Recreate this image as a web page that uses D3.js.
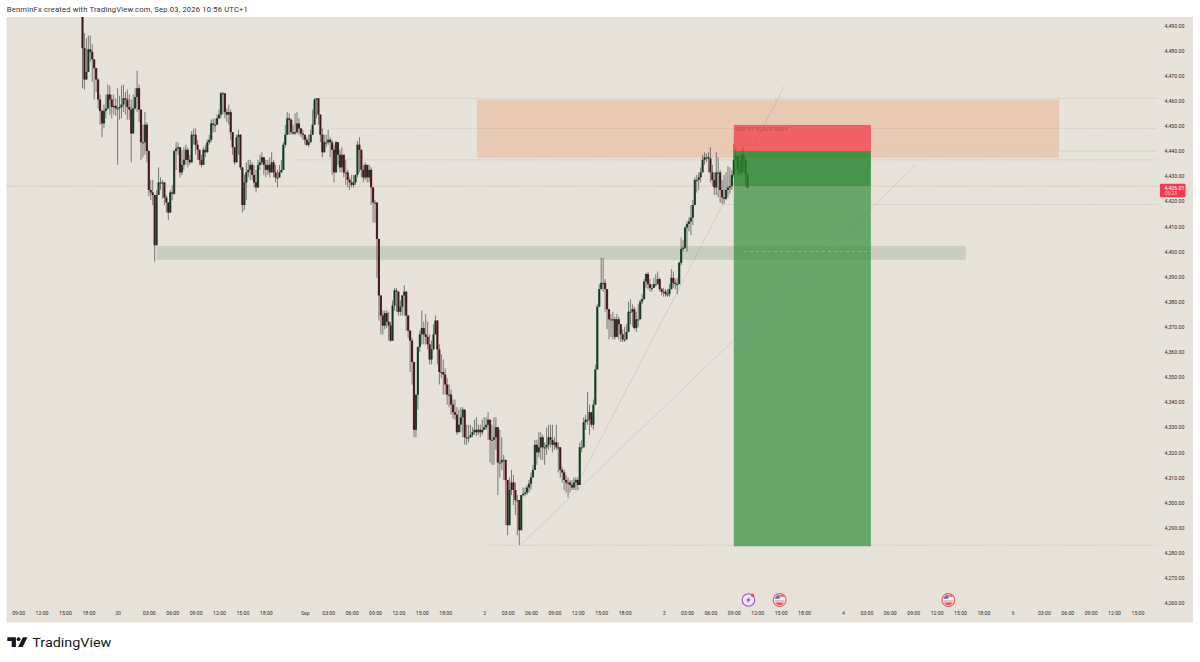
<!DOCTYPE html>
<html>
<head>
<meta charset="utf-8">
<script src="https://cdn.jsdelivr.net/npm/d3@7"></script>
<style>
  html, body { margin: 0; padding: 0; background: #fff; }
  svg { display: block; }
  text { font-family: Roboto, "Liberation Sans", sans-serif; }
  .domain { display: none; }
</style>
</head>
<body>
<svg id="chart" width="1200" height="662"></svg>
<script>
// 15 minute bars, one row is 3 hours. open is the close before it
const firstOpen = 4494;
const closes = [
  4481,4468.5,4471.5,4480.5,4479.5,4476.5,4473,4468.5,4460.5,4456,4451,4456,
  4457,4462.5,4460.5,4457.5,4458,4457,4457,4457.5,4458.5,4461,4460.5,4457.5,
  4456.5,4447,4457,4461.5,4465,4456.5,4443.5,4443.5,4450.5,4440,4424.5,4423.5,
  4422.5,4402.5,4422.5,4427.5,4427.5,4427.5,4421.5,4419.5,4415.5,4423.5,4423,4440,
  4441,4441.5,4431.5,4434.5,4436.5,4440.5,4436.5,4435.5,4446.5,4446.5,4442.5,4440.5,
  4436.5,4434.5,4440.5,4439.5,4443.5,4444.5,4451,4450.5,4450.5,4453,4454.5,4463,
  4463,4455.5,4454.5,4455.5,4447.5,4441.5,4435.5,4445.5,4446.5,4433.5,4418.5,4427.5,
  4431.5,4432.5,4434.5,4430.5,4427.5,4425.5,4434.5,4435.5,4437.5,4434.5,4432.5,4434.5,
  4431.5,4435.5,4431.5,4429.5,4429.5,4431.5,4432.5,4442.5,4446.5,4453,4452.5,4447.5,
  4447,4447.5,4451,4449,4447,4446.5,4444.5,4442.5,4443.5,4446.5,4450.5,4460.5,
  4461,4454.5,4446.5,4439.5,4443.5,4443.5,4444.5,4443.5,4440.5,4431.5,4443.5,4438.5,
  4433.5,4438.5,4431.5,4431.5,4428.5,4427.5,4426.5,4427.5,4430.5,4442.5,4440.5,4432.5,
  4429.5,4434.5,4429.5,4432.5,4425.5,4419.5,4419.5,4405,4382.5,4374.5,4370.5,4375.5,
  4372,4370.5,4364.5,4378.5,4384.5,4384,4376,4378,4382.5,4384,4374.5,4368.5,
  4364.5,4356,4329,4343,4362,4367,4369.5,4367,4366,4363,4357,4361,
  4367,4372.5,4361,4352,4352,4351,4347,4343,4343,4339,4336,4335,
  4328,4331,4334,4337,4326,4326,4326,4327,4328,4329,4328,4329,
  4328,4329,4330,4331,4333,4325,4325,4326,4330,4316,4316,4317,
  4317,4309,4291,4305,4308,4305,4301,4301,4289,4303,4303.5,4304,
  4306,4307.5,4310,4313,4323,4320,4322,4326,4322,4322,4323,4326,
  4325,4323,4324,4322,4322,4313,4312,4309,4308,4308,4307,4306,
  4308,4309,4307,4322,4322,4332,4333,4333,4336,4331,4339,4353,
  4378,4385,4387.5,4387.5,4385,4377,4373,4373,4373,4366,4373,4371,
  4367,4365,4365,4368,4376,4376,4377,4369.5,4373,4373,4380,4381,
  4388,4391,4387,4385.5,4385.5,4387,4387,4389,4385,4384,4384,4383,
  4383,4385,4389.5,4387.5,4387,4387,4395.5,4401,4401.5,4409.5,4411,4412,
  4413.5,4418.5,4428.5,4428.5,4429.5,4431.5,4436.5,4437.5,4437.5,4437,4431.5,4428.5,
  4425.5,4431.5,4431.5,4424.5,4421.5,4421,4424.5,4425.5,4426,4430.5,4436.5,4438,
  4432.5,4431.5,4438.5,4436.5,4430.5,4425.5
];
const highs = [
  4494.5,4487,4485,4486,4486,4482.5,4476.5,4472.5,4469,4462.5,4456.5,4458.5,
  4462.5,4466.5,4466,4462.5,4462.5,4461,4465,4462,4466,4466.5,4463.5,4464.5,
  4462.5,4460.5,4462.5,4465,4472,4466.5,4456.5,4450.5,4455.5,4451.5,4440.5,4428.5,
  4428.5,4422.5,4424.5,4433.5,4429.5,4428.5,4427.5,4422.5,4419.5,4424.5,4426.5,4440.5,
  4443.5,4443.5,4441.5,4440.5,4441.5,4442.5,4441.5,4438.5,4448,4449,4449,4444.5,
  4440.5,4438.5,4441.5,4442.5,4444.5,4446.5,4452.5,4453,4453,4454.5,4456.5,4463.5,
  4463.5,4462.5,4457,4458.5,4456.5,4446.5,4440.5,4446.5,4448.5,4446.5,4433.5,4430.5,
  4435.5,4436.5,4436.5,4435.5,4434.5,4432.5,4436.5,4438.5,4439.5,4437.5,4436.5,4436.5,
  4437.5,4439.5,4436.5,4434.5,4432.5,4434.5,4436.5,4443.5,4450.5,4455.5,4455,4453,
  4450.5,4455,4455.5,4453,4449,4448.5,4446.5,4445.5,4446.5,4448.5,4456.5,4461,
  4461,4460.5,4454.5,4449,4446.5,4446.5,4448.5,4445.5,4444.5,4442.5,4444,4443.5,
  4440.5,4441.5,4438.5,4436.5,4432.5,4429.5,4430.5,4430.5,4430.5,4444,4445.5,4440.5,
  4434.5,4435.5,4434.5,4434.5,4433.5,4425.5,4420.5,4419.5,4405,4382.5,4376.5,4376.5,
  4376.5,4376,4372,4380.5,4385.5,4385.5,4384,4380.5,4382.5,4386.5,4384,4374.5,
  4368.5,4365.5,4356,4343,4362,4368.5,4376.5,4372,4375,4372,4367,4364.5,
  4371,4374.5,4372.5,4363,4359,4357,4353.5,4349.5,4347,4345,4341,4341,
  4338,4337,4338,4338,4337,4331,4331,4331,4330,4333,4334,4331,
  4331,4333,4334,4334,4336,4333,4331,4334,4334,4330,4329,4326,
  4319,4317,4309,4310,4313,4311,4308,4303,4301,4303,4306,4306,
  4307,4309,4312,4315,4325,4325,4328,4328,4327,4324,4330,4331,
  4331,4331,4326,4331,4324,4322,4314,4313,4311,4310,4309,4309,
  4310,4310,4310,4324,4325,4334,4335,4344,4339,4336,4341,4355,
  4379,4387,4397.5,4397.5,4389,4385,4377,4375,4376,4374,4375,4374,
  4371,4369,4370,4371,4380,4381,4379,4378,4376,4379,4381,4383,
  4389,4391.5,4392,4389,4387,4389.5,4391,4392,4389.5,4385.5,4385.5,4385,
  4385,4387,4393,4392,4389,4389.5,4396,4405.5,4404.5,4410,4412,4413.5,
  4418.5,4420.5,4429.5,4430.5,4431.5,4433.5,4438.5,4439.5,4439,4439.5,4441.5,4434.5,
  4431.5,4439.5,4437.5,4432.5,4428.5,4430.5,4431.5,4434,4433.5,4432.5,4443,4441.5,
  4438.5,4438.5,4440.5,4441.5,4437.5,4431.5
];
const lows = [
  4465,4464.5,4469,4471.5,4475.5,4467.5,4460.5,4463.5,4457,4450.5,4445.5,4449,
  4453,4456.5,4454.5,4453,4454.5,4454,4434.5,4452.5,4453,4455.5,4454.5,4452.5,
  4452.5,4435.5,4454.5,4456.5,4455.5,4451.5,4436.5,4437.5,4438.5,4435.5,4422,4420.5,
  4418.5,4396,4420.5,4423.5,4424.5,4421,4418.5,4415.5,4412.5,4418.5,4420.5,4422.5,
  4432.5,4438.5,4429.5,4430.5,4432.5,4434.5,4433.5,4434.5,4436.5,4442.5,4438.5,4436.5,
  4434.5,4433.5,4436.5,4437.5,4441.5,4442.5,4443.5,4447.5,4447.5,4451.5,4453,4453,
  4454.5,4453,4451.5,4450.5,4444.5,4438.5,4434.5,4435.5,4438.5,4432.5,4415.5,4416.5,
  4420.5,4429.5,4428.5,4428.5,4425.5,4423.5,4425.5,4432.5,4434.5,4430.5,4429.5,4430.5,
  4429.5,4431.5,4429.5,4427.5,4425.5,4429.5,4431.5,4432.5,4441.5,4446.5,4446.5,4446.5,
  4446.5,4446.5,4447,4446.5,4445.5,4444.5,4442.5,4442,4441.5,4445.5,4446.5,4450.5,
  4453,4450.5,4443.5,4437.5,4440.5,4441.5,4442.5,4437.5,4430.5,4427.5,4436.5,4434.5,
  4431.5,4431.5,4429.5,4426.5,4425.5,4424.5,4425.5,4425.5,4426.5,4429.5,4431.5,4429.5,
  4427.5,4428.5,4427.5,4427.5,4418.5,4411.5,4411.5,4389.5,4372.5,4367,4367,4369,
  4369.5,4364.5,4364,4364.5,4376.5,4376,4374.5,4374.5,4374.5,4374.5,4368.5,4365.5,
  4352,4347,4326,4326,4337,4360,4363,4363,4363,4361,4355,4355,
  4363,4367,4355,4347,4349.5,4343,4343,4339,4338,4335,4333.5,4333,
  4327,4328,4328,4326,4323,4323,4324,4326,4326,4327,4326.5,4327,
  4326,4327,4329,4329,4325,4316,4315,4315,4321,4303,4310,4313,
  4309,4291,4287,4291,4303,4299,4295,4287,4283,4289,4302.5,4302.5,
  4303,4304,4305,4310,4313,4315,4318,4317,4317,4315,4319,4321,
  4322,4320,4321,4321,4312,4310,4308,4305,4304,4302,4304,4305,
  4305,4305,4305,4307,4320,4322,4329,4331,4327,4330,4329,4339,
  4357,4378,4385,4384,4376,4369,4365,4366,4365,4365,4366,4365,
  4364,4364,4364,4365,4368,4371,4370,4369,4368,4370,4373,4379,
  4382,4385.5,4385,4384,4384,4385.5,4386,4387,4384,4382.5,4382,4382,
  4382,4382,4385,4385.5,4385,4383,4387.5,4394.5,4400,4401,4400,4408,
  4406.5,4410.5,4418.5,4423.5,4424.5,4427.5,4431.5,4434.5,4435.5,4431.5,4427.5,4426,
  4422.5,4422.5,4421.5,4419.5,4419,4419,4420.5,4421.5,4423,4424.5,4429.5,4430.5,
  4430.5,4430.5,4430.5,4431.5,4425.5,4425
];

const priceTicks = [4490,4480,4470,4460,4450,4440,4430,4420,4410,4400,4390,4380,4370,4360,4350,
  4340,4330,4320,4310,4300,4290,4280,4270,4260];
// tick positions are bar numbers
const timeTickBars = [-33,-21,-9,3,18,34,46,58,70,82,94,114,126,138,150,162,174,186,206,218,230,242,254,266,278,
  298,310,322,334,346,358,370,390,402,414,426,438,450,462,477,493,505,517,529,541];
const timeTickLabels = ["09:00","12:00","15:00","18:00","30","03:00","06:00","09:00","12:00","15:00","18:00","Sep",
  "03:00","06:00","09:00","12:00","15:00","18:00","2","03:00","06:00","09:00","12:00","15:00","18:00",
  "3","03:00","06:00","09:00","12:00","15:00","18:00","4","03:00","06:00","09:00","12:00","15:00","18:00",
  "6","03:00","06:00","09:00","12:00","15:00"];

// [first bar, top price, bottom price, last bar]
const supplyZone = [202.3, 4460.5, 4437.3, 500.8];
const demandZone = [38, 4402.2, 4396.7, 453];
const position = {startBar: 334, endBar: 404.3, stop: 4450.4, entry: 4440, target: 4282.6};
const lastPrice = 4426;
// [price, first bar]
const dottedLevels = [[4461,121],[4449,127.5],[4436.5,110],[4418.7,328],[4283,209]];
// [bar, price, bar, price]
const trendLines = [[224.4,4283,427.5,4434.5],[254.5,4308.5,360,4466]];
const flagBars = [357.5,444];
const flashBar = 341.5;

const width = 1200, height = 662;
const plot = {left: 6.5, top: 17, right: 1193, bottom: 622.5, levelEnd: 551};

const x = d3.scaleLinear().domain([0, 341]).range([82.5, 747.45]);
const y = d3.scaleLinear().domain([4260, 4490]).range([603, 25.5]);

const bars = closes.map((c, i) => {
  const o = i === 0 ? firstOpen : closes[i - 1];
  return {i: i, o: o, c: c, h: Math.max(highs[i], o, c), l: Math.min(lows[i], o, c)};
});

const svg = d3.select("#chart");
svg.append("rect").attr("width", width).attr("height", height).attr("fill", "#fff");
svg.append("rect").attr("x", plot.left).attr("y", plot.top)
    .attr("width", plot.right - plot.left).attr("height", plot.bottom - plot.top).attr("fill", "#E6E1D9");

svg.append("clipPath").attr("id", "plotClip").append("rect")
    .attr("x", plot.left).attr("y", plot.top).attr("width", 1154).attr("height", plot.bottom - plot.top);
const g = svg.append("g").attr("clip-path", "url(#plotClip)");

function zone(z, color) {
  g.append("rect").attr("x", x(z[0])).attr("y", y(z[1]))
      .attr("width", x(z[3]) - x(z[0])).attr("height", y(z[2]) - y(z[1])).attr("fill", color);
}
zone(supplyZone, "#E8C9B4");
zone(demandZone, "#C9CDBD");

g.append("line").attr("x1", x(326)).attr("x2", x(plot.levelEnd))
    .attr("y1", y(position.entry)).attr("y2", y(position.entry))
    .attr("stroke", "#C9CFC3").attr("stroke-width", 0.8);

// candles
g.selectAll(".wick").data(bars).join("line").attr("class", "wick")
    .attr("x1", d => x(d.i)).attr("x2", d => x(d.i))
    .attr("y1", d => y(d.h)).attr("y2", d => y(d.l))
    .attr("stroke", "#3c3c38").attr("stroke-width", 0.85).attr("stroke-opacity", 0.75);
g.selectAll(".body").data(bars).join("rect").attr("class", "body")
    .attr("x", d => x(d.i) - 1.1).attr("width", 2.2)
    .attr("y", d => y(Math.max(d.o, d.c)))
    .attr("height", d => Math.max(1.2, Math.abs(y(d.o) - y(d.c))))
    .attr("fill", d => d.c >= d.o ? "#27553A" : "#6A222F");
g.selectAll(".core").data(bars).join("line").attr("class", "core")
    .attr("x1", d => x(d.i)).attr("x2", d => x(d.i))
    .attr("y1", d => y(Math.max(d.o, d.c))).attr("y2", d => y(Math.min(d.o, d.c)))
    .attr("stroke", "#0c0c0c").attr("stroke-width", 0.8).attr("stroke-opacity", 0.7);

// long position box
const boxX = x(position.startBar), boxW = x(position.endBar) - x(position.startBar);
g.append("rect").attr("x", boxX).attr("width", boxW).attr("y", y(position.stop))
    .attr("height", y(position.entry) - y(position.stop)).attr("fill", "rgb(245,60,75)").attr("fill-opacity", 0.75);
g.append("rect").attr("x", boxX).attr("width", boxW).attr("y", y(position.entry))
    .attr("height", y(position.target) - y(position.entry)).attr("fill", "rgb(46,139,56)").attr("fill-opacity", 0.68);
g.append("rect").attr("x", boxX).attr("width", boxW).attr("y", y(position.entry))
    .attr("height", y(lastPrice) - y(position.entry)).attr("fill", "rgb(20,125,30)").attr("fill-opacity", 0.4);
g.append("line").attr("x1", boxX + 10).attr("x2", boxX + boxW).attr("y1", y(4400)).attr("y2", y(4400))
    .attr("stroke", "#A9C9A5").attr("stroke-width", 0.6).attr("stroke-dasharray", "3 3");
g.append("text").attr("x", boxX + 1.5).attr("y", y(position.stop) + 6).attr("font-size", 5.5)
    .attr("fill", "#B8434B").attr("fill-opacity", 0.8).attr("letter-spacing", 0.25).text("BMI 61 ELAIN A454");

// thin trend lines and dotted levels stay readable through the box
g.selectAll(".trend").data(trendLines).join("line").attr("class", "trend")
    .attr("x1", d => x(d[0])).attr("y1", d => y(d[1]))
    .attr("x2", d => x(d[2])).attr("y2", d => y(d[3]))
    .attr("stroke", "#5f5e55").attr("stroke-width", 0.9).attr("stroke-opacity", 0.17);

g.selectAll(".level").data(dottedLevels).join("line").attr("class", "level")
    .attr("x1", d => x(d[1])).attr("x2", x(plot.levelEnd))
    .attr("y1", d => y(d[0])).attr("y2", d => y(d[0]))
    .attr("stroke", "#8f8c85").attr("stroke-width", 0.6).attr("stroke-dasharray", "1 1.8").attr("stroke-opacity", 0.75);

g.append("line").attr("x1", plot.left).attr("x2", 1160)
    .attr("y1", y(lastPrice)).attr("y2", y(lastPrice))
    .attr("stroke", "#C9615F").attr("stroke-width", 0.6).attr("stroke-dasharray", "1 1.8").attr("stroke-opacity", 0.85);

// axes
const priceAxis = d3.axisRight(y).tickValues(priceTicks).tickSize(0).tickPadding(0)
    .tickFormat(d3.format(",.2f"));
const yAxisG = svg.append("g").attr("transform", "translate(1164.5,0)").call(priceAxis);
yAxisG.selectAll("text").attr("font-size", 5.2).attr("fill", "#2b2b2b");

const timeAxis = d3.axisBottom(x).tickValues(timeTickBars).tickSize(0).tickPadding(0)
    .tickFormat((d, i) => timeTickLabels[i]);
const xAxisG = svg.append("g").attr("transform", "translate(0,611.5)").call(timeAxis);
xAxisG.selectAll("text").attr("font-size", 5.2).attr("fill", "#2b2b2b");
xAxisG.selectAll(".tick").filter((d, i) => timeTickLabels[i].length < 5)
    .select("text").attr("fill", "#444");

// last price tag
svg.append("rect").attr("x", 1160).attr("y", y(lastPrice) - 2.5).attr("width", 25.5).attr("height", 13.5)
    .attr("fill", "#F23B50").attr("rx", 0.8);
svg.append("text").attr("x", 1164.5).attr("y", y(lastPrice) + 4.2).attr("font-size", 5.2).attr("fill", "#fff")
    .text(d3.format(",.2f")(4426.01));
svg.append("text").attr("x", 1164.5).attr("y", y(lastPrice) + 9.2).attr("font-size", 5)
    .attr("fill", "#FFC9CC").text("05:23");

// event icons
const iconY = 600;
function flag(cx) {
  const f = svg.append("g").attr("transform", "translate(" + cx + "," + iconY + ")");
  f.append("circle").attr("r", 6.4).attr("fill", "#F4ECE6").attr("stroke", "#EE5B60").attr("stroke-width", 1.1);
  f.append("path").attr("d", "M-5 -1.2 A5.2 5.2 0 0 1 0 -5 L0 -1.2 Z").attr("fill", "#3E7CC4");
  f.append("rect").attr("x", 0).attr("y", -4.8).attr("width", 4.2).attr("height", 1.5).attr("fill", "#E8525A");
  f.append("rect").attr("x", -5).attr("y", 0.4).attr("width", 10).attr("height", 1.2).attr("fill", "#E8A0A0");
  f.append("path").attr("d", "M-4.4 2.6 L4.4 2.6 A5.2 5.2 0 0 1 -4.4 2.6 Z").attr("fill", "#E8525A");
}
flagBars.forEach(b => flag(x(b)));
const flash = svg.append("g").attr("transform", "translate(" + x(flashBar) + "," + iconY + ")");
flash.append("circle").attr("r", 6.3).attr("fill", "#EFE9F0").attr("stroke", "#A648C8").attr("stroke-width", 1.1);
flash.append("path").attr("d", "M1.2 -3.6 L-2.4 0.6 L-0.3 0.6 L-1.2 3.6 L2.4 -0.8 L0.2 -0.8 Z").attr("fill", "#A648C8");
flash.append("circle").attr("cx", 4.3).attr("cy", -4.6).attr("r", 1.6).attr("fill", "#E0504F");

// header and logo
svg.append("text").attr("x", 6.8).attr("y", 12.2).attr("font-size", 7.6).attr("fill", "#333")
    .attr("textLength", 241).attr("lengthAdjust", "spacing")
    .text("BenminFx created with TradingView.com, Sep 03, 2026 10:56 UTC+1");

const logo = svg.append("g").attr("transform", "translate(7.3,637.3)").attr("fill", "#131722");
logo.append("path").attr("d", "M0 0 H8.6 V9.7 H4.4 V3.6 H0 Z");
logo.append("circle").attr("cx", 11.3).attr("cy", 1.9).attr("r", 1.9);
logo.append("path").attr("d", "M15.6 0 H20.2 L15.4 9.7 H10.8 Z");
svg.append("text").attr("x", 32.3).attr("y", 646.8).attr("font-family", "Inter").attr("font-size", 13.6)
    .attr("font-weight", 400).attr("fill", "#131722").attr("textLength", 79).attr("lengthAdjust", "spacingAndGlyphs")
    .text("TradingView");
</script>
</body>
</html>
